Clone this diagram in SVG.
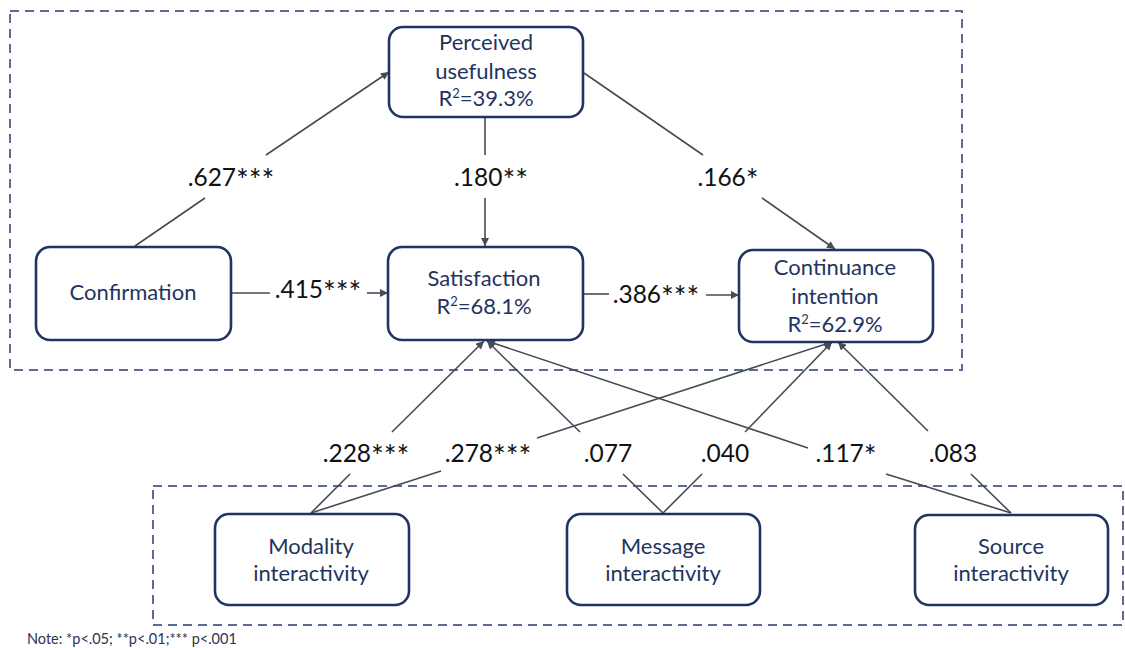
<svg xmlns="http://www.w3.org/2000/svg" width="1125" height="648" viewBox="0 0 1125 648">
  <style>
    .frame { fill: none; stroke: #5b6b93; stroke-width: 2; stroke-dasharray: 9 6; }
    .node rect { fill: #ffffff; stroke: #1f3460; stroke-width: 2.6; }
    .node text { font-family: Lato, "Open Sans", sans-serif; font-size: 22px; fill: #1f3460; text-anchor: middle; }
    .edge { fill: none; stroke: #454b57; stroke-width: 1.6; }
    .arrow { marker-end: url(#head); }
    .lbl { font-family: Lato, "Open Sans", sans-serif; font-size: 24.5px; fill: #111111; text-anchor: middle; }
    .star { font-size: 30px; }
    .note { font-family: Lato, "Open Sans", sans-serif; font-size: 14.5px; fill: #2a3550; }
  </style>
  <defs>
    <marker id="head" viewBox="0 0 10 10" refX="10" refY="5" markerWidth="9" markerHeight="8" markerUnits="userSpaceOnUse" orient="auto">
      <path d="M0,0 L10,5 L0,10 Z" fill="#454b57"/>
    </marker>
  </defs>

  <rect width="1125" height="648" fill="#ffffff"/>

  <!-- model boundaries -->
  <rect class="frame" x="10" y="11" width="952" height="359"/>
  <rect class="frame" x="153" y="486" width="970" height="139"/>

  <!-- connectors -->
  <g id="connectors">
    <!-- Confirmation -> Perceived usefulness -->
    <line class="edge" x1="135" y1="246" x2="205" y2="198"/>
    <line class="edge arrow" x1="266" y1="155" x2="389" y2="72"/>
    <!-- Confirmation -> Satisfaction -->
    <line class="edge" x1="231" y1="293" x2="270" y2="293"/>
    <line class="edge arrow" x1="367" y1="293" x2="388" y2="293"/>
    <!-- Perceived usefulness -> Satisfaction -->
    <line class="edge" x1="485" y1="117" x2="485" y2="155"/>
    <line class="edge arrow" x1="485" y1="198" x2="485" y2="246"/>
    <!-- Perceived usefulness -> Continuance intention -->
    <line class="edge" x1="584" y1="73" x2="703" y2="155"/>
    <line class="edge arrow" x1="762" y1="198" x2="835" y2="249"/>
    <!-- Satisfaction -> Continuance intention -->
    <line class="edge" x1="583" y1="294" x2="609" y2="294"/>
    <line class="edge arrow" x1="706" y1="295" x2="739" y2="295"/>
    <!-- Modality interactivity -->
    <line class="edge" x1="311" y1="513" x2="350" y2="474"/>
    <line class="edge arrow" x1="392" y1="432" x2="484" y2="341"/>
    <line class="edge" x1="311" y1="513" x2="441" y2="471"/>
    <line class="edge arrow" x1="537" y1="438" x2="832" y2="342"/>
    <!-- Message interactivity -->
    <line class="edge" x1="663" y1="513" x2="623" y2="474"/>
    <line class="edge arrow" x1="580" y1="432" x2="487" y2="341"/>
    <line class="edge" x1="663" y1="513" x2="702" y2="474"/>
    <line class="edge arrow" x1="745" y1="432" x2="832" y2="342"/>
    <!-- Source interactivity -->
    <line class="edge" x1="1011" y1="513" x2="886" y2="474"/>
    <line class="edge arrow" x1="808" y1="448" x2="487" y2="341"/>
    <line class="edge" x1="1011" y1="513" x2="971" y2="474"/>
    <line class="edge arrow" x1="928" y1="431" x2="838" y2="342"/>
  </g>

  <!-- path coefficients -->
  <g id="coefficients">
    <text class="lbl" x="231" y="186">.627<tspan class="star" dy="5">***</tspan></text>
    <text class="lbl" x="491" y="186">.180<tspan class="star" dy="5">**</tspan></text>
    <text class="lbl" x="728" y="186">.166<tspan class="star" dy="5">*</tspan></text>
    <text class="lbl" x="318" y="298">.415<tspan class="star" dy="5">***</tspan></text>
    <text class="lbl" x="656" y="303">.386<tspan class="star" dy="5">***</tspan></text>
    <text class="lbl" x="366" y="462">.228<tspan class="star" dy="5">***</tspan></text>
    <text class="lbl" x="488" y="462">.278<tspan class="star" dy="5">***</tspan></text>
    <text class="lbl" x="608" y="462">.077</text>
    <text class="lbl" x="725" y="462">.040</text>
    <text class="lbl" x="846" y="462">.117<tspan class="star" dy="5">*</tspan></text>
    <text class="lbl" x="953" y="462">.083</text>
  </g>

  <!-- constructs -->
  <g id="perceived-usefulness" class="node">
    <rect x="389" y="27" width="194" height="90" rx="14"/>
    <text x="486" y="50">Perceived</text>
    <text x="486" y="79">usefulness</text>
    <text x="486" y="106">R<tspan font-size="13" dy="-8">2</tspan><tspan dy="8">=39.3%</tspan></text>
  </g>
  <g id="confirmation" class="node">
    <rect x="36" y="247" width="195" height="93" rx="14"/>
    <text x="133" y="300">Confirmation</text>
  </g>
  <g id="satisfaction" class="node">
    <rect x="388" y="247" width="195" height="93" rx="14"/>
    <text x="484" y="286">Satisfaction</text>
    <text x="484" y="314">R<tspan font-size="13" dy="-8">2</tspan><tspan dy="8">=68.1%</tspan></text>
  </g>
  <g id="continuance-intention" class="node">
    <rect x="739" y="250" width="194" height="92" rx="14"/>
    <text x="835" y="275">Continuance</text>
    <text x="835" y="304">intention</text>
    <text x="835" y="332">R<tspan font-size="13" dy="-8">2</tspan><tspan dy="8">=62.9%</tspan></text>
  </g>
  <g id="modality-interactivity" class="node">
    <rect x="215" y="514" width="194" height="91" rx="14"/>
    <text x="311" y="554">Modality</text>
    <text x="311" y="581">interactivity</text>
  </g>
  <g id="message-interactivity" class="node">
    <rect x="567" y="514" width="193" height="91" rx="14"/>
    <text x="663" y="554">Message</text>
    <text x="663" y="581">interactivity</text>
  </g>
  <g id="source-interactivity" class="node">
    <rect x="915" y="515" width="193" height="90" rx="14"/>
    <text x="1011" y="554">Source</text>
    <text x="1011" y="581">interactivity</text>
  </g>

  <text class="note" x="27" y="644">Note: *p&lt;.05; **p&lt;.01;*** p&lt;.001</text>
</svg>
